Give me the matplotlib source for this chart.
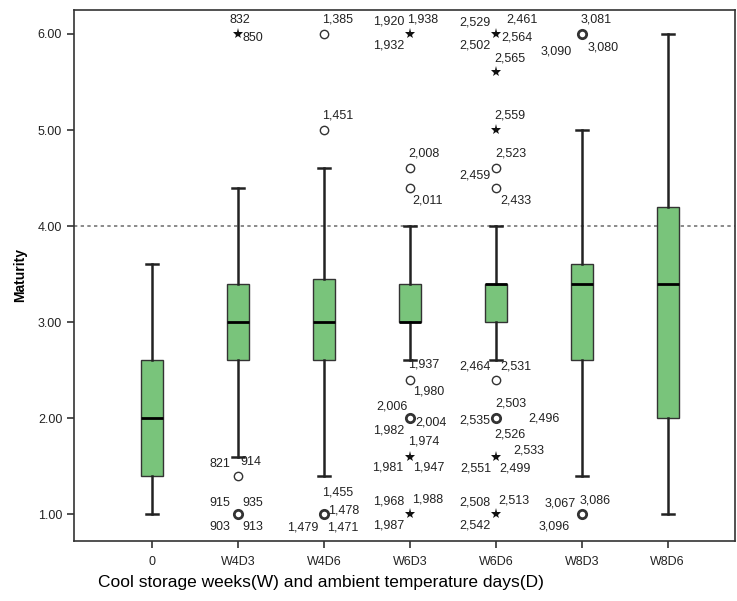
import matplotlib
matplotlib.use('Agg')
import matplotlib.pyplot as plt

plt.rcParams['font.family'] = ['Liberation Sans', 'DejaVu Sans']

# box summary per group
categories = ['0', 'W4D3', 'W4D6', 'W6D3', 'W6D6', 'W8D3', 'W8D6']
whislo = [1.0, 1.6, 1.4, 2.6, 2.6, 1.4, 1.0]
q1 = [1.4, 2.6, 2.6, 3.0, 3.0, 2.6, 2.0]
med = [2.0, 3.0, 3.0, 3.0, 3.4, 3.4, 3.4]
q3 = [2.6, 3.4, 3.45, 3.4, 3.4, 3.6, 4.2]
whishi = [3.6, 4.4, 4.6, 4.0, 4.0, 5.0, 6.0]
threshold = 4.0

# outliers: group index, value, kind (o = outlier, * = extreme), case ids
out_group = [1, 1, 1,
             2, 2, 2,
             3, 3, 3, 3, 3, 3, 3,
             4, 4, 4, 4, 4, 4, 4, 4, 4,
             5, 5]
out_value = [6.0, 1.4, 1.0,
             6.0, 5.0, 1.0,
             6.0, 4.6, 4.4, 2.4, 2.0, 1.6, 1.0,
             6.0, 5.6, 5.0, 4.6, 4.4, 2.4, 2.0, 1.6, 1.0,
             6.0, 1.0]
out_kind = ['*', 'o', 'o',
            'o', 'o', 'o',
            '*', 'o', 'o', 'o', 'o', '*', '*',
            '*', '*', '*', 'o', 'o', 'o', 'o', '*', '*',
            'o', 'o']
out_ids = [['832', '850'], ['821', '914'], ['915', '935', '903', '913'],
           ['1,385'], ['1,451'], ['1,455', '1,478', '1,479', '1,471'],
           ['1,920', '1,938', '1,932'], ['2,008'], ['2,011'], ['1,937', '1,980'],
           ['2,006', '2,004', '1,982'], ['1,974', '1,981', '1,947'],
           ['1,968', '1,988', '1,987'],
           ['2,529', '2,461', '2,564', '2,502'], ['2,565'], ['2,559'], ['2,523'],
           ['2,459', '2,433'], ['2,464', '2,531'],
           ['2,503', '2,535', '2,526', '2,496'], ['2,533', '2,551', '2,499'],
           ['2,508', '2,513', '2,542'],
           ['3,081', '3,090', '3,080'], ['3,067', '3,086', '3,096']]

# label offsets (pixels) from each marker
label_offsets = [[(2, 14), (15, -4)], [(-18, 12), (13, 14)],
                 [(-18, 11), (15, 11), (-18, -13), (15, -13)],
                 [(14, 14)], [(14, 15)], [(14, 22), (20, 4), (-21, -13), (19, -13)],
                 [(-21, 12), (13, 14), (-21, -12)], [(14, 15)], [(18, -13)],
                 [(14, 15), (19, -12)], [(-18, 12), (21, -4), (-21, -12)],
                 [(14, 15), (-22, -11), (19, -11)], [(-21, 13), (18, 15), (-21, -11)],
                 [(-21, 11), (26, 14), (21, -4), (-21, -12)], [(14, 14)], [(14, 15)],
                 [(15, 15)], [(-21, 12), (20, -13)], [(-21, 13), (20, 13)],
                 [(15, 15), (-21, -2), (14, -16), (48, 0)],
                 [(33, 6), (-20, -12), (19, -12)], [(-21, 12), (18, 14), (-21, -11)],
                 [(14, 14), (-26, -18), (21, -14)], [(-22, 11), (13, 14), (-28, -12)]]

fig = plt.figure(figsize=(7.37, 6.01), dpi=100)
ax = fig.add_axes([0.1004, 0.0998, 0.8966, 0.8836])

stats = []
for i, c in enumerate(categories):
    stats.append({'label': c, 'whislo': whislo[i], 'q1': q1[i], 'med': med[i],
                  'q3': q3[i], 'whishi': whishi[i], 'fliers': []})

ax.axhline(threshold, color='#777777', lw=1.2, ls=(0, (2, 2)), zorder=1)

ax.bxp(stats, positions=range(len(categories)), widths=0.26, patch_artist=True,
       showfliers=False,
       boxprops=dict(facecolor='#79c47b', edgecolor='#333333', lw=1.0),
       whiskerprops=dict(color='#222222', lw=1.8),
       capprops=dict(color='#222222', lw=1.8),
       medianprops=dict(color='black', lw=2.0),
       capwidths=0.14, zorder=2)

for g, v, k, ids, offs in zip(out_group, out_value, out_kind, out_ids, label_offsets):
    if k == 'o':
        lw = 2.0 if len(ids) > 2 else 1.0
        ax.plot(g, v, 'o', ms=6, mfc='white', mec='#333333', mew=lw, zorder=3)
    else:
        ax.plot(g, v, '*', ms=8, color='#111111', mew=0, zorder=3)
    for t, (dx, dy) in zip(ids, offs):
        ax.annotate(t, (g, v), xytext=(dx, dy), textcoords='offset pixels',
                    ha='center', va='center', fontsize=9, color='#222222')

ax.set_xlim(-0.907, 6.78)
ax.set_ylim(0.72, 6.25)
ax.set_yticks([1, 2, 3, 4, 5, 6])
ax.set_yticklabels(['%.2f' % t for t in [1, 2, 3, 4, 5, 6]])
ax.set_xticks(range(len(categories)))
ax.set_xticklabels(categories)
ax.tick_params(axis='both', direction='out', length=5, width=1.2,
               colors='#333333', labelsize=9, labelcolor='#222222')
ax.tick_params(axis='x', pad=6)
for s in ax.spines.values():
    s.set_color('#333333')
    s.set_linewidth(1.2)

ax.set_ylabel('Maturity', fontsize=10, fontweight='bold', labelpad=8)
ax.set_xlabel('Cool storage weeks(W) and ambient temperature days(D)', fontsize=12.5,
              labelpad=5)
ax.xaxis.label.set_x(0.374)

fig.savefig('out.png', dpi=100)
